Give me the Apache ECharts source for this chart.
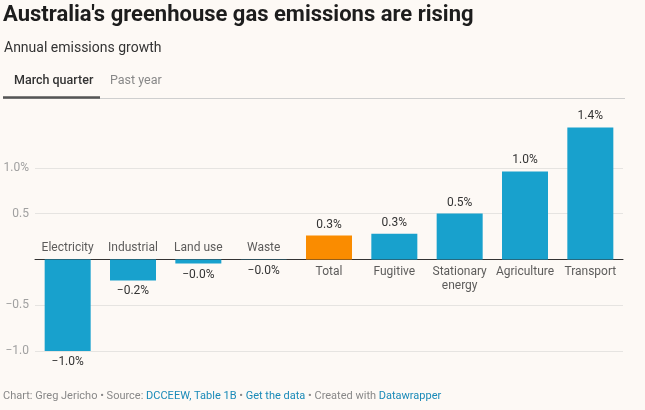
<!DOCTYPE html>
<html>
<head>
<meta charset="utf-8">
<script src="https://cdn.jsdelivr.net/npm/echarts@6/dist/echarts.min.js"></script>
<style>
html,body{margin:0;padding:0;background:#fdf9f5;}
#c{width:645px;height:410px;}
</style>
</head>
<body>
<div id="c"></div>
<script>
const categories = ['Electricity','Industrial','Land use','Waste','Total','Fugitive','Stationary\nenergy','Agriculture','Transport'];
const values = [-1.01, -0.23, -0.045, -0.005, 0.26, 0.28, 0.50, 0.96, 1.44];
const highlight = 'Total';
const yTicks = {'1': '1.0%', '0.5': '0.5', '-0.5': '\u22120.5', '-1': '\u22121.0'};

const FONT = 'Roboto, "Noto Sans", sans-serif';
const BLUE = '#18a1cd', ORANGE = '#fa8c00';

function fmt(v){ return (v < 0 ? '\u2212' : '') + Math.abs(v).toFixed(1) + '%'; }

const barData = values.map((v,i)=>({
  value: v,
  itemStyle: {color: categories[i] === highlight ? ORANGE : BLUE},
  label: {position: v < 0 ? 'bottom' : 'top'}
}));
const nameData = values.map((v,i)=>({
  value: 0,
  label: {position: v < 0 ? 'top' : 'bottom', distance: v < 0 ? 4 : 6, formatter: categories[i]}
}));

const chart = echarts.init(document.getElementById('c'), null, {renderer:'canvas'});
chart.setOption({
  backgroundColor: '#fdf9f5',
  animation: false,
  textStyle: {fontFamily: FONT},
  grid: {left: 35, right: 22, top: 122, bottom: 59, containLabel: false},
  xAxis: {
    type: 'category', data: categories, boundaryGap: true,
    axisLine: {show: true, onZero: true, lineStyle: {color: '#333', width: 1}},
    axisTick: {show: false}, axisLabel: {show: false}
  },
  yAxis: {
    type: 'value', min: -1, max: 1.5, interval: 0.5,
    axisLine: {show: false}, axisTick: {show: false},
    splitLine: {show: true, showMaxLine: false, lineStyle: {color: '#e6e4e1', width: 1}},
    axisLabel: {
      margin: 6, color: '#a0a0a0', fontSize: 12, fontFamily: FONT,
      formatter: v => yTicks[String(Math.round(v*10)/10)] || ''
    }
  },
  series: [
    {
      type: 'bar', data: barData, barWidth: 46,
      label: {show: true, distance: 5, color: '#333', fontSize: 12, fontFamily: FONT,
        formatter: p => fmt(p.value)}
    },
    {
      type: 'scatter', data: nameData, symbolSize: 0, silent: true,
      label: {show: true, color: '#333', fontSize: 12, fontFamily: FONT, lineHeight: 14}
    }
  ],
  graphic: [
    {type:'text', left: 3, top: 4, style:{text:"Australia's greenhouse gas emissions are rising", font:'bold 22px '+FONT, fill:'#1d1d1d'}},
    {type:'text', left: 4, top: 41, style:{text:'Annual emissions growth', font:'14px '+FONT, fill:'#333'}},
    {type:'text', left: 14, top: 74, style:{text:'March quarter', font:'500 12.5px '+FONT, fill:'#333'}},
    {type:'text', left: 110, top: 74, style:{text:'Past year', font:'12.5px '+FONT, fill:'#888'}},
    {type:'line', shape:{x1:3, y1:98.5, x2:625, y2:98.5}, style:{stroke:'#cfcfcf', lineWidth:1}},
    {type:'line', shape:{x1:3, y1:97.5, x2:100, y2:97.5}, style:{stroke:'#555', lineWidth:2.5}},
    {type:'text', left: 3, top: 391, style:{
      text: '{g|Chart: Greg Jericho \u2022 Source: }{b|DCCEEW, Table 1B}{g| \u2022 }{b|Get the data}{g| \u2022 Created with }{b|Datawrapper}',
      font: '11px '+FONT,
      rich: {g:{fill:'#888', font:'11px '+FONT}, b:{fill:'#1a8ab8', font:'11px '+FONT}}
    }}
  ]
});
</script>
</body>
</html>
